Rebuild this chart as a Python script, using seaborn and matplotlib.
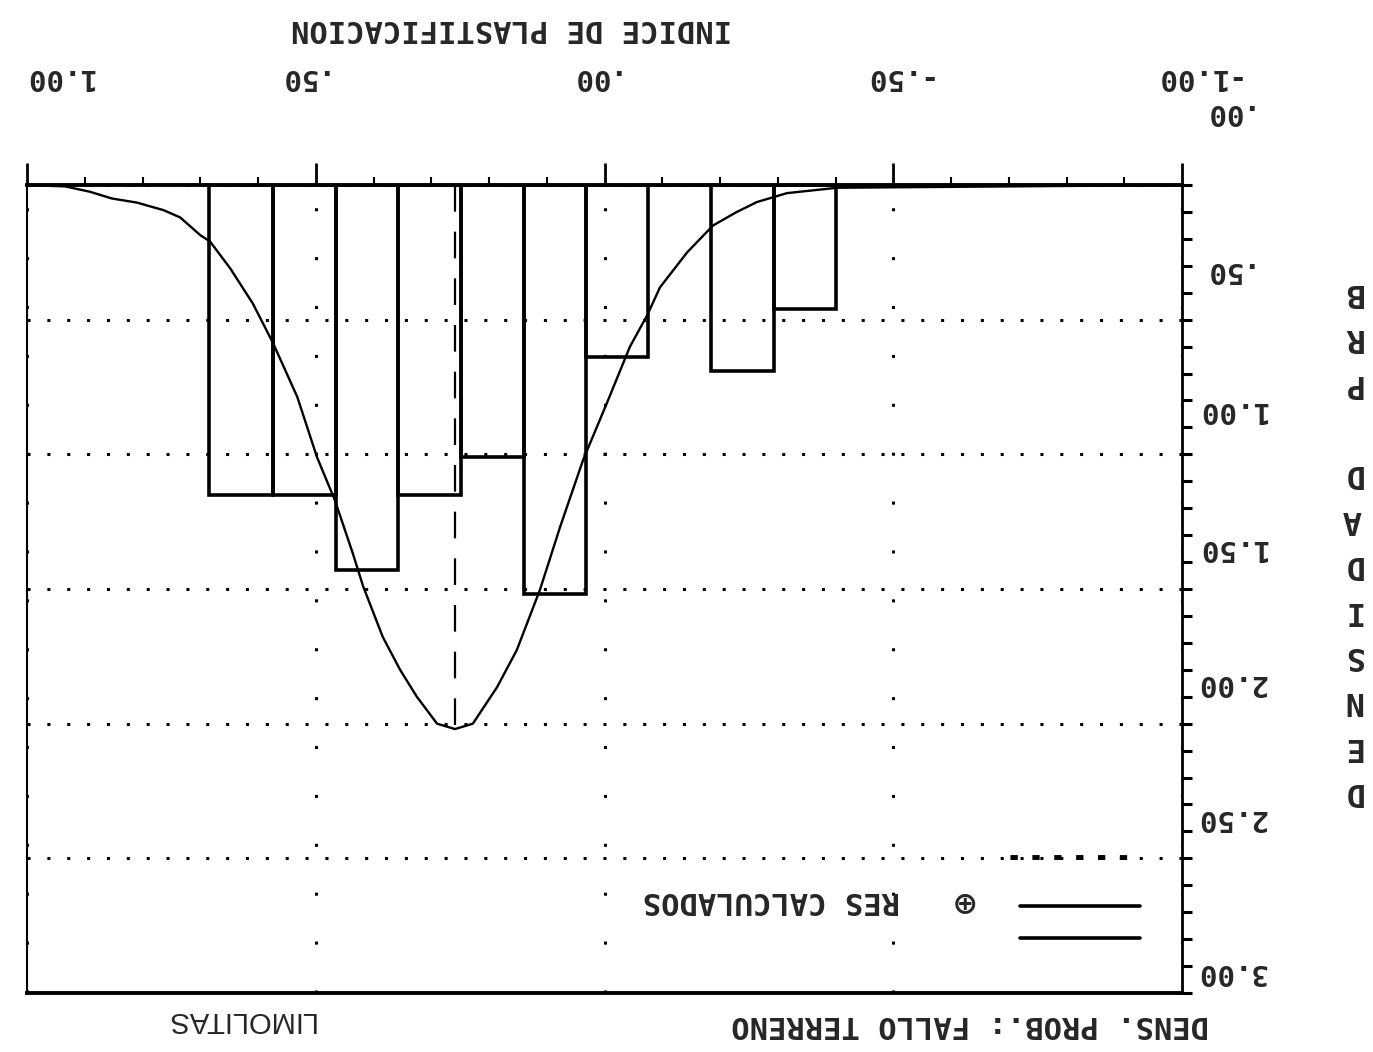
import matplotlib
matplotlib.use("Agg")
import matplotlib.pyplot as plt
import matplotlib.transforms as mtransforms
import numpy as np
import seaborn as sns

# histogram of the plastification index, heights as probability density
bin_edges = [-0.401, -0.293, -0.184, -0.075, 0.032, 0.139, 0.248, 0.358, 0.465, 0.574, 0.685]
bin_density = [0.46, 0.69, 0.0, 0.64, 1.52, 1.01, 1.15, 1.43, 1.15, 1.15]

# fitted density curve
curve_x = [-1.0, -0.403, -0.316, -0.264, -0.229, -0.188, -0.143, -0.096, -0.074, -0.044,
           -0.004, 0.037, 0.077, 0.112, 0.152, 0.186, 0.228, 0.259, 0.290, 0.325,
           0.354, 0.384, 0.418, 0.436, 0.467, 0.498, 0.532, 0.574, 0.609, 0.648,
           0.683, 0.700, 0.735, 0.764, 0.810, 0.853, 0.891, 0.934, 1.0]
curve_y = [0.0, 0.01, 0.03, 0.063, 0.10, 0.15, 0.25, 0.38, 0.483, 0.60,
           0.81, 1.02, 1.27, 1.504, 1.727, 1.864, 2.0, 2.02, 2.0, 1.90,
           1.80, 1.678, 1.49, 1.367, 1.17, 1.01, 0.787, 0.587, 0.44, 0.31,
           0.21, 0.186, 0.12, 0.093, 0.065, 0.05, 0.025, 0.005, 0.0]

peak_x = 0.259
peak_y = 2.02

x_ticks = [1.0, 0.5, 0.0, -0.5, -1.0]
x_tick_labels = ["1.00", ".50", ".00", "-.50", "-1.00"]
y_ticks = [0.0, 0.5, 1.0, 1.5, 2.0, 2.5, 3.0]
y_tick_labels = [".00", ".50", "1.00", "1.50", "2.00", "2.50", "3.00"]

title = "INDICE DE PLASTIFICACION"
y_title = "DENSIDAD PRB"
bottom_title = "DENS. PROB.: FALLO TERRENO"
note = "LIMOLITAS"
legend_label = "RES CALCULADOS"

sns.set_style("white")
plt.rcParams['font.family'] = ['DejaVu Sans Mono', 'DejaVu Sans']
plt.rcParams['font.weight'] = 'bold'

fig = plt.figure(figsize=(13.73, 10.52), dpi=100)
ax = fig.add_axes([0.0197, 0.0561, 0.8412, 0.768])

mids = [(a + b) / 2 for a, b in zip(bin_edges[:-1], bin_edges[1:])]
sns.histplot(x=mids, weights=bin_density, bins=bin_edges, stat="count", fill=False,
             color="black", linewidth=2.6, ax=ax, zorder=3)
sns.lineplot(x=curve_x, y=curve_y, color="black", linewidth=1.7, ax=ax, zorder=4)
ax.plot([peak_x, peak_x], [0, peak_y], color="black", lw=1.6, ls=(0, (12, 9)), zorder=4)

# plotter output is upside down: x runs 1 -> -1, y runs 0 (top) -> 3 (bottom)
ax.set_xlim(1.0, -1.0)
ax.set_ylim(3.0, 0.0)
ax.set_xlabel("")
ax.set_ylabel("")

ax.xaxis.tick_top()
ax.yaxis.tick_right()
ax.set_xticks(x_ticks)
ax.set_xticklabels(x_tick_labels)
ax.set_xticks(np.arange(-1.0, 1.01, 0.1), minor=True)
ax.set_yticks(y_ticks)
ax.set_yticklabels(y_tick_labels)
ax.set_yticks(np.arange(0.0, 3.01, 0.1), minor=True)

ax.tick_params(axis='x', which='major', length=16, width=2, pad=52, labelsize=21,
               labelrotation=180, color='black')
ax.tick_params(axis='x', which='minor', length=6, width=1.5, color='black')
ax.tick_params(axis='y', which='both', length=7, width=2.2, pad=3, labelsize=21,
               labelrotation=180, color='black')

ax.xaxis.grid(True, which='major', color='black', linestyle=(0, (1, 15)), linewidth=2.2)
ax.yaxis.grid(True, which='major', color='black', linestyle=(0, (1, 5.5)), linewidth=2.2)

for side, lw in [('top', 2.8), ('bottom', 2.8), ('right', 2.0), ('left', 1.5)]:
    ax.spines[side].set_visible(True)
    ax.spines[side].set_color('black')
    ax.spines[side].set_linewidth(lw)

# irregular label offsets of the plotter (pixels)
x_shift = [31, -18, -15, 2, 13]
for lab, dx in zip(ax.xaxis.get_majorticklabels(), x_shift):
    lab.set_transform(lab.get_transform() + mtransforms.ScaledTranslation(dx / 100, 0, fig.dpi_scale_trans))
y_shift = [73, 50, 44, 41, 41, 40, 21]
for lab, dy in zip(ax.yaxis.get_majorticklabels(), y_shift):
    lab.set_verticalalignment('center')
    lab.set_transform(lab.get_transform() + mtransforms.ScaledTranslation(0, dy / 100, fig.dpi_scale_trans))

# legend block
ax.plot([0.8598, 0.9636], [0.1077, 0.1077], transform=ax.transAxes, color='black', lw=2.6)
ax.plot([0.8598, 0.9636], [0.068, 0.068], transform=ax.transAxes, color='black', lw=2.6)
ax.plot([0.851, 0.955], [0.168, 0.168], transform=ax.transAxes, color='black', lw=3.5,
        ls=(0, (1.5, 3)))
ax.text(0.808, 0.115, "⊕", transform=ax.transAxes, fontsize=22, ha='center', va='center',
        rotation=180, family=['DejaVu Sans'])
ax.text(0.756, 0.115, legend_label, transform=ax.transAxes, fontsize=22, ha='right',
        va='center', rotation=180)

fig.text(511 / 1373, 1 - 28 / 1052, title, fontsize=22, ha='center', va='center', rotation=180)
fig.text(970 / 1373, 1 - 1025 / 1052, bottom_title, fontsize=22, ha='center', va='center',
         rotation=180)
fig.text(240 / 1373, 1 - 1020 / 1052, note, fontsize=21, ha='center', va='center',
         rotation=180, family=['Liberation Sans'], weight='normal')
fig.text(1352 / 1373, 1 - 542 / 1052, "\n".join(y_title), fontsize=23, ha='center',
         va='center', rotation=180, linespacing=1.6)

fig.savefig("out.png", dpi=100)
